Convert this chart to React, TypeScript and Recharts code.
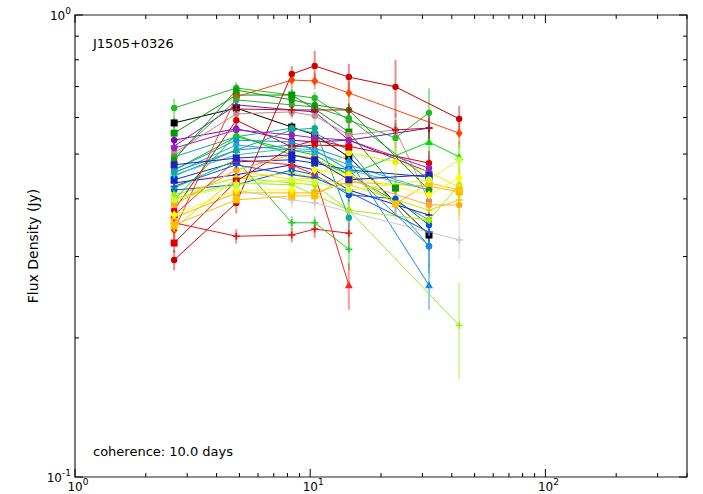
import React from 'react';
import { LineChart, Line, XAxis, YAxis, ErrorBar, ReferenceArea } from 'recharts';

// observing frequencies (GHz)
const FREQS = [2.64, 4.85, 8.35, 10.45, 14.6, 23.05, 32.0, 43.0];

const X_TICKS = [1, 2, 3, 4, 5, 6, 7, 8, 9, 10, 20, 30, 40, 50, 60, 70, 80, 90, 100, 200, 300, 400];
const Y_TICKS = [0.1, 0.2, 0.3, 0.4, 0.5, 0.6, 0.7, 0.8, 0.9, 1];
const MAJOR_X: Record<number, string> = { 1: '0', 10: '1', 100: '2' };
const MAJOR_Y: Record<number, string> = { 0.1: '-1', 1: '0' };

const SERIES_COLORS = [
  '#22bb22', '#000000', '#009900', '#8800aa', '#7711bb', '#cc8888', '#1aa6a0', '#00cc00',
  '#22aadd', '#1e88e5', '#0033cc', '#3311aa', '#0055dd', '#aaee00', '#00dd00', '#eeee00',
  '#dd0000', '#ffb300', '#ff4400', '#dddd00', '#dd0000', '#cc0000', '#ee1111', '#22cc22',
  '#ff2222', '#cccccc', '#99ee22', '#2288dd', '#33bbcc', '#11aa99', '#33aa33', '#119911',
  '#9922bb', '#ffc000', '#ffff00', '#bb1111', '#ffaa22', '#2222bb', '#1155ee', '#ccff33',
];

const SERIES_MARKERS = [
  'o', 's', 's', 'o', '+', 'o', 'o', 'o',
  'o', '^', 's', '+', 'o', 'd', '^', 'o',
  'o', 's', 'd', '+', 's', 'o', '+', '+',
  '^', '+', '+', 'o', '+', 'o', 'o', 'o',
  'o', 's', 'd', '+', 'o', 's', '+', 'o',
];

// flux density (Jy) per series, one value per frequency (null = not observed)
const FLUX: (number | null)[][] = [
  [0.629, 0.695, 0.671, 0.661, 0.592, 0.542, 0.614, null],
  [0.584, 0.629, 0.572, 0.550, 0.493, null, 0.334, null],
  [0.555, 0.671, 0.671, 0.626, 0.558, 0.422, null, null],
  [0.536, 0.567, 0.536, 0.531, 0.536, null, 0.457, null],
  [0.520, 0.639, 0.623, 0.617, 0.536, null, 0.569, null],
  [0.503, 0.611, 0.617, 0.605, 0.550, 0.564, 0.396, null],
  [0.493, 0.545, 0.569, 0.555, 0.510, null, 0.316, null],
  [0.462, 0.545, 0.510, 0.498, 0.451, null, 0.360, null],
  [0.455, 0.523, 0.510, 0.505, 0.474, null, 0.418, null],
  [0.448, 0.510, 0.523, 0.515, 0.486, null, 0.260, null],
  [0.440, 0.481, 0.486, 0.478, 0.462, null, 0.446, null],
  [0.433, 0.451, 0.474, 0.462, 0.418, null, 0.369, null],
  [0.418, 0.429, 0.462, 0.451, 0.408, 0.400, 0.351, null],
  [0.408, 0.444, 0.433, 0.429, 0.378, null, 0.360, 0.429],
  [0.398, 0.550, 0.498, 0.486, 0.451, null, 0.531, 0.493],
  [0.392, 0.462, 0.440, 0.444, 0.503, 0.481, 0.457, 0.424],
  [0.378, 0.592, 0.518, 0.523, 0.520, null, 0.478, null],
  [0.364, 0.412, 0.412, 0.412, 0.435, null, 0.426, 0.414],
  [0.342, 0.665, 0.723, 0.720, 0.678, null, null, 0.555],
  [0.346, 0.444, 0.455, 0.444, 0.429, null, 0.378, 0.398],
  [0.321, 0.437, 0.518, 0.536, 0.518, null, null, null],
  [0.295, 0.392, 0.745, 0.776, 0.734, 0.699, null, 0.596],
  [0.355, 0.332, 0.334, 0.344, 0.337, null, null, null],
  [0.422, 0.486, 0.355, 0.355, 0.311, null, null, null],
  [0.369, 0.486, 0.474, 0.451, 0.260, null, null, null],
  [null, 0.418, 0.398, 0.392, 0.375, null, 0.339, 0.326],
  [0.401, 0.433, 0.429, 0.408, 0.378, null, null, 0.213],
  [0.462, 0.536, 0.531, 0.510, 0.462, null, 0.316, null],
  [0.451, 0.498, 0.515, 0.510, 0.462, null, 0.418, null],
  [0.457, 0.510, 0.564, 0.569, 0.364, null, null, null],
  [0.493, 0.655, 0.639, 0.632, 0.598, null, 0.440, null],
  [0.486, 0.688, 0.655, 0.639, 0.623, null, 0.418, null],
  [0.515, 0.564, 0.550, 0.542, 0.536, null, 0.466, null],
  [0.351, 0.398, 0.406, 0.406, 0.451, 0.390, 0.433, 0.418],
  [0.369, 0.418, 0.418, 0.462, 0.451, null, 0.408, 0.444],
  [null, 0.626, 0.623, 0.623, 0.623, 0.564, 0.569, null],
  [0.388, 0.462, 0.498, 0.490, 0.440, null, 0.388, 0.388],
  [0.474, 0.490, 0.498, 0.486, 0.440, null, 0.451, null],
  [0.426, 0.474, 0.451, 0.444, 0.414, null, 0.339, null],
  [0.398, 0.429, 0.440, 0.435, 0.418, null, 0.440, 0.486],
];

// 1-sigma errors (Jy)
const FLUX_ERR: (number | null)[][] = [
  [0.03, 0.02, 0.02, 0.02, 0.03, 0.04, 0.08, null],
  [0.015, 0.02, 0.015, 0.015, 0.015, 0.02, 0.02, null],
  [0.015, 0.02, 0.02, 0.02, 0.02, 0.03, null, null],
  [0.015, 0.015, 0.015, 0.015, 0.02, 0.03, 0.03, null],
  [0.015, 0.02, 0.02, 0.02, 0.02, 0.03, 0.04, null],
  [0.015, 0.02, 0.02, 0.02, 0.03, 0.05, 0.04, null],
  [0.015, 0.015, 0.015, 0.015, 0.02, 0.03, 0.04, null],
  [0.015, 0.015, 0.015, 0.015, 0.02, 0.03, 0.04, null],
  [0.015, 0.015, 0.015, 0.015, 0.02, 0.03, 0.03, null],
  [0.015, 0.015, 0.015, 0.015, 0.02, 0.03, 0.03, null],
  [0.012, 0.015, 0.015, 0.015, 0.02, 0.03, 0.03, null],
  [0.012, 0.015, 0.015, 0.015, 0.02, 0.03, 0.03, null],
  [0.012, 0.015, 0.015, 0.015, 0.02, 0.03, 0.03, null],
  [0.012, 0.015, 0.015, 0.015, 0.02, 0.03, 0.03, 0.04],
  [0.012, 0.015, 0.015, 0.015, 0.02, 0.03, 0.04, 0.04],
  [0.012, 0.015, 0.015, 0.015, 0.02, 0.06, 0.04, 0.04],
  [0.015, 0.02, 0.02, 0.02, 0.02, null, 0.03, null],
  [0.012, 0.015, 0.015, 0.015, 0.02, 0.03, 0.03, 0.03],
  [0.015, 0.02, 0.03, 0.03, 0.04, null, null, 0.04],
  [0.012, 0.015, 0.015, 0.015, 0.02, 0.04, 0.03, 0.03],
  [0.015, 0.02, 0.02, 0.02, 0.02, null, null, null],
  [0.015, 0.02, 0.03, 0.06, 0.05, 0.1, null, 0.04],
  [0.012, 0.012, 0.012, 0.015, 0.02, null, null, null],
  [0.012, 0.015, 0.012, 0.012, 0.03, null, null, null],
  [0.012, 0.015, 0.015, 0.02, 0.03, null, null, null],
  [null, 0.015, 0.015, 0.015, 0.02, 0.03, 0.03, 0.03],
  [0.012, 0.015, 0.015, 0.015, 0.02, null, null, 0.05],
  [0.012, 0.015, 0.015, 0.015, 0.02, 0.03, 0.03, null],
  [0.012, 0.015, 0.015, 0.015, 0.02, 0.03, 0.03, null],
  [0.012, 0.015, 0.015, 0.015, 0.02, null, null, null],
  [0.015, 0.02, 0.02, 0.02, 0.02, 0.03, 0.04, null],
  [0.015, 0.02, 0.02, 0.02, 0.02, 0.03, 0.04, null],
  [0.015, 0.015, 0.015, 0.015, 0.02, 0.03, 0.03, null],
  [0.012, 0.015, 0.015, 0.015, 0.02, 0.03, 0.03, 0.03],
  [0.012, 0.015, 0.015, 0.015, 0.02, 0.04, 0.03, 0.03],
  [null, 0.02, 0.02, 0.02, 0.02, 0.03, 0.03, null],
  [0.012, 0.015, 0.015, 0.015, 0.02, 0.03, 0.03, 0.03],
  [0.012, 0.015, 0.015, 0.015, 0.02, 0.03, 0.03, null],
  [0.012, 0.015, 0.015, 0.015, 0.02, 0.03, 0.03, null],
  [0.012, 0.015, 0.015, 0.015, 0.02, 0.03, 0.03, 0.04],
];

// plot box in page pixels
const PL = 75;
const PR = 687;
const PT = 15;
const PB = 477;

const FONT = '"DejaVu Sans", sans-serif';

function Marker({ cx, cy, shape, color }: { cx?: number; cy?: number; shape: string; color: string }) {
  if (cx == null || cy == null) return null;
  if (shape === 's') return <rect x={cx - 3.5} y={cy - 3.5} width={7} height={7} fill={color} />;
  if (shape === '^')
    return <polygon points={`${cx},${cy - 4} ${cx - 4},${cy + 3} ${cx + 4},${cy + 3}`} fill={color} />;
  if (shape === 'd')
    return <polygon points={`${cx},${cy - 4.5} ${cx - 3.5},${cy} ${cx},${cy + 4.5} ${cx + 3.5},${cy}`} fill={color} />;
  if (shape === '+')
    return (
      <path d={`M${cx - 3.5},${cy}H${cx + 3.5}M${cx},${cy - 3.5}V${cy + 3.5}`} stroke={color} strokeWidth={1.6} />
    );
  return <circle cx={cx} cy={cy} r={3.2} fill={color} />;
}

function XTick(props: any) {
  const { x, payload } = props;
  const exp = MAJOR_X[payload.value];
  const len = exp !== undefined ? 8 : 4;
  return (
    <g>
      <line x1={x} x2={x} y1={PB} y2={PB - len} stroke="#000" strokeWidth={1} />
      <line x1={x} x2={x} y1={PT} y2={PT + len} stroke="#000" strokeWidth={1} />
      {exp !== undefined && (
        <text x={x + 3} y={PB + 14} textAnchor="middle" fontSize={12} fontFamily={FONT} fill="#000">
          <tspan>10</tspan>
          <tspan dy={-6} fontSize={9}>{exp}</tspan>
        </text>
      )}
    </g>
  );
}

function YTick(props: any) {
  const { y, payload } = props;
  const exp = MAJOR_Y[payload.value];
  const len = exp !== undefined ? 8 : 4;
  return (
    <g>
      <line x1={PL} x2={PL + len} y1={y} y2={y} stroke="#000" strokeWidth={1} />
      <line x1={PR} x2={PR - len} y1={y} y2={y} stroke="#000" strokeWidth={1} />
      {exp !== undefined && (
        <text x={PL - 4} y={y + 5} textAnchor="end" fontSize={12} fontFamily={FONT} fill="#000">
          <tspan>10</tspan>
          <tspan dy={-6} fontSize={9}>{exp}</tspan>
        </text>
      )}
    </g>
  );
}

export default function App() {
  const series = FLUX.map((row, i) => ({
    name: `s${i + 1}`,
    color: SERIES_COLORS[i],
    marker: SERIES_MARKERS[i],
    rows: FREQS.map((f, j) => ({ f, flux: row[j], err: FLUX_ERR[i][j] })).filter((r) => r.flux != null),
  }));

  return (
    <div style={{ position: 'absolute', left: 0, top: 0, width: 703, height: 494, background: '#fff' }}>
      <LineChart width={703} height={494} margin={{ top: PT, right: 703 - PR, bottom: 0, left: 0 }}>
        <XAxis
          type="number"
          dataKey="f"
          scale="log"
          domain={[1, 400]}
          ticks={X_TICKS}
          interval={0}
          allowDataOverflow
          axisLine={false}
          tickLine={false}
          height={494 - PB}
          tick={(p: any) => <XTick {...p} />}
        />
        <YAxis
          type="number"
          scale="log"
          domain={[0.1, 1]}
          ticks={Y_TICKS}
          interval={0}
          allowDataOverflow
          axisLine={false}
          tickLine={false}
          width={PL}
          tick={(p: any) => <YTick {...p} />}
        />
        {series.map((s) => (
          <Line
            key={s.name}
            data={s.rows}
            dataKey="flux"
            stroke={s.color}
            strokeWidth={1}
            dot={(p: any) => <Marker key={`${s.name}-${p.index}`} cx={p.cx} cy={p.cy} shape={s.marker} color={s.color} />}
            activeDot={false}
            legendType="none"
            isAnimationActive={false}
          >
            <ErrorBar
              dataKey="err"
              direction="y"
              width={0}
              stroke={s.color}
              strokeWidth={2}
              strokeOpacity={0.45}
              isAnimationActive={false}
            />
          </Line>
        ))}
        <ReferenceArea x1={1} x2={400} y1={0.1} y2={1} fill="none" stroke="#222" strokeWidth={1.2} ifOverflow="visible" />
      </LineChart>
      <div style={{ position: 'absolute', left: 93, top: 37, fontFamily: FONT, fontSize: 13, lineHeight: '14px' }}>
        J1505+0326
      </div>
      <div style={{ position: 'absolute', left: 93, top: 445, fontFamily: FONT, fontSize: 13, lineHeight: '14px' }}>
        coherence: 10.0 days
      </div>
      <div
        style={{
          position: 'absolute',
          left: 33,
          top: 246,
          transform: 'translate(-50%, -50%) rotate(-90deg)',
          fontFamily: FONT,
          fontSize: 14,
          whiteSpace: 'nowrap',
        }}
      >
        Flux Density (Jy)
      </div>
    </div>
  );
}
